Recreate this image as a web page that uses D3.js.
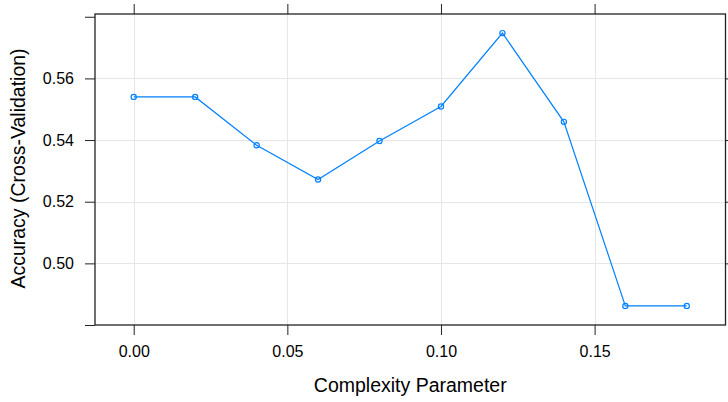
<!DOCTYPE html>
<html>
<head>
<meta charset="utf-8">
<script src="https://cdn.jsdelivr.net/npm/d3@7"></script>
<style>
  body { margin: 0; background: #fff; }
  svg { display: block; }
  text { font-family: "Liberation Sans", Arial, sans-serif; }
</style>
</head>
<body>
<div id="chart"></div>
<script>
// complexity parameter vs resampled accuracy
const cp = [0.00, 0.02, 0.04, 0.06, 0.08, 0.10, 0.12, 0.14, 0.16, 0.18]
const accuracy = [0.5540, 0.5540, 0.5383, 0.5272, 0.5397, 0.5509, 0.5747, 0.5459, 0.4862, 0.4862]
const xTicks = [0.00, 0.05, 0.10, 0.15]
const yTicks = [0.50, 0.52, 0.54, 0.56]
const yEdgeTicks = [0.48, 0.58]

const width = 728
const height = 402
const margin = ({top: 14, right: 2, bottom: 77, left: 95})

const svg = d3.select("#chart").append("svg")
    .attr("width", width)
    .attr("height", height)

// lattice pads the data range by 7% on each side
const xr = d3.extent(cp), yr = d3.extent(accuracy)
const xPad = (xr[1] - xr[0]) * 0.07
const yPad = (yr[1] - yr[0]) * 0.07

const x = d3.scaleLinear()
    .domain([xr[0] - xPad, xr[1] + xPad])
    .range([margin.left, width - margin.right - 0.5])

const y = d3.scaleLinear()
    .domain([yr[0] - yPad, yr[1] + yPad])
    .range([height - margin.bottom, margin.top])

const x0 = x.range()[0], x1 = x.range()[1]
const y0 = y.range()[0], y1 = y.range()[1]

// grid
svg.append("g")
    .attr("stroke", "#e6e6e6")
    .attr("stroke-width", 1)
    .selectAll("line.gx")
    .data(xTicks)
    .join("line")
      .attr("x1", d => Math.round(x(d)) + 0.5)
      .attr("x2", d => Math.round(x(d)) + 0.5)
      .attr("y1", y1)
      .attr("y2", y0)

svg.append("g")
    .attr("stroke", "#e6e6e6")
    .attr("stroke-width", 1)
    .selectAll("line.gy")
    .data(yTicks)
    .join("line")
      .attr("x1", x0)
      .attr("x2", x1)
      .attr("y1", d => Math.round(y(d)) + 0.5)
      .attr("y2", d => Math.round(y(d)) + 0.5)

// axes
const fmt = d3.format(".2f")

svg.append("g")
    .attr("transform", `translate(0,${y0})`)
    .call(d3.axisBottom(x).tickValues(xTicks).tickFormat(fmt).tickSize(10).tickPadding(11).tickSizeOuter(0))
    .call(g => g.select(".domain").remove())
    .call(g => g.selectAll("text").attr("font-size", 16).attr("fill", "#000"))

svg.append("g")
    .attr("transform", `translate(0,${y1})`)
    .call(d3.axisTop(x).tickValues(xTicks).tickFormat("").tickSize(10).tickSizeOuter(0))
    .call(g => g.select(".domain").remove())

svg.append("g")
    .attr("transform", `translate(${x0},0)`)
    .call(d3.axisLeft(y).tickValues(yTicks.concat(yEdgeTicks)).tickFormat(d => yTicks.includes(d) ? fmt(d) : "").tickSize(10).tickPadding(11).tickSizeOuter(0))
    .call(g => g.select(".domain").remove())
    .call(g => g.selectAll("text").attr("font-size", 16).attr("fill", "#000"))

svg.append("g")
    .attr("transform", `translate(${x1},0)`)
    .call(d3.axisRight(y).tickValues(yTicks).tickFormat("").tickSize(10).tickSizeOuter(0))
    .call(g => g.select(".domain").remove())

svg.selectAll(".tick line").attr("stroke", "#222")

// panel border
svg.append("rect")
    .attr("x", x0)
    .attr("y", y1)
    .attr("width", x1 - x0)
    .attr("height", y0 - y1)
    .attr("fill", "none")
    .attr("stroke", "#222")
    .attr("stroke-width", 1.3)

// series
const line = d3.line()
    .x((d, i) => x(cp[i]))
    .y(d => y(d))

svg.append("path")
    .datum(accuracy)
    .attr("fill", "none")
    .attr("stroke", "#0080ff")
    .attr("stroke-width", 1.2)
    .attr("d", line)

svg.append("g")
    .selectAll("circle")
    .data(accuracy)
    .join("circle")
      .attr("cx", (d, i) => x(cp[i]))
      .attr("cy", d => y(d))
      .attr("r", 2.6)
      .attr("fill", "none")
      .attr("stroke", "#0080ff")
      .attr("stroke-width", 1.2)

// labels
svg.append("text")
    .attr("x", (x0 + x1) / 2)
    .attr("y", 392)
    .attr("text-anchor", "middle")
    .attr("font-size", 19.5)
    .attr("fill", "#000")
    .text("Complexity Parameter")

svg.append("text")
    .attr("transform", `translate(24.5,${(y0 + y1) / 2 - 1}) rotate(-90)`)
    .attr("text-anchor", "middle")
    .attr("font-size", 19.5)
    .attr("fill", "#000")
    .text("Accuracy (Cross-Validation)")
</script>
</body>
</html>
